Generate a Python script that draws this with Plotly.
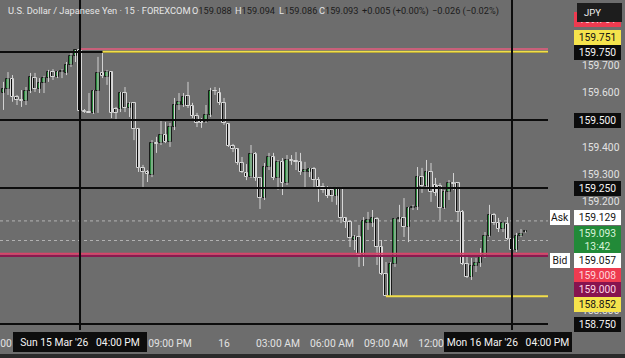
import plotly.graph_objects as go
import pandas as pd

# ---------------- data (15-minute USD/JPY candles) ----------------
start_time = "2026-03-15 11:45"
opens = [159.599, 159.614, 159.651, 159.585, 159.574, 159.570, 159.607, 159.654, 159.614, 159.636,
         159.654, 159.676, 159.658, 159.676, 159.673, 159.702, 159.735,
         159.757, 159.533, 159.529, 159.526, 159.607, 159.673, 159.658, 159.676, 159.540, 159.540,
         159.599, 159.544, 159.563, 159.467, 159.324, 159.309, 159.298, 159.415, 159.415, 159.445,
         159.419, 159.474, 159.555, 159.555, 159.588, 159.551, 159.515, 159.500, 159.493, 159.518,
         159.607, 159.599, 159.563, 159.485, 159.404, 159.393, 159.342, 159.305, 159.290, 159.375,
         159.287, 159.213, 159.327, 159.364, 159.287, 159.346, 159.268, 159.353, 159.349, 159.346,
         159.309, 159.309, 159.320, 159.279, 159.254, 159.250, 159.243, 159.221, 159.246, 159.140,
         159.125, 159.059, 159.070, 159.004, 159.121, 159.121, 159.136, 159.033, 158.934, 158.852,
         158.971, 159.136, 159.140, 159.107, 159.177, 159.180, 159.290, 159.257, 159.309, 159.261,
         159.257, 159.177, 159.235, 159.268, 159.268, 159.162, 158.971, 158.923, 158.963, 158.974,
         158.996, 159.074, 159.151, 159.121, 159.099, 159.118, 159.063, 159.022, 159.074, 159.088]
highs = [159.640, 159.676, 159.665, 159.592, 159.610, 159.621, 159.673, 159.673, 159.654, 159.662,
         159.684, 159.687, 159.680, 159.687, 159.713, 159.746, 159.757,
         159.761, 159.540, 159.599, 159.610, 159.732, 159.751, 159.684, 159.680, 159.548, 159.603,
         159.621, 159.566, 159.566, 159.471, 159.335, 159.316, 159.426, 159.438, 159.500, 159.493,
         159.489, 159.581, 159.599, 159.599, 159.640, 159.563, 159.526, 159.507, 159.555, 159.618,
         159.621, 159.618, 159.581, 159.489, 159.412, 159.397, 159.364, 159.338, 159.408, 159.382,
         159.290, 159.342, 159.379, 159.379, 159.353, 159.360, 159.371, 159.371, 159.382, 159.379,
         159.346, 159.324, 159.327, 159.290, 159.268, 159.257, 159.254, 159.254, 159.254, 159.143,
         159.132, 159.077, 159.114, 159.143, 159.162, 159.169, 159.143, 159.059, 158.978, 158.978,
         159.140, 159.188, 159.213, 159.180, 159.188, 159.327, 159.324, 159.353, 159.342, 159.287,
         159.268, 159.243, 159.279, 159.305, 159.272, 159.169, 159.004, 158.993, 158.993, 159.029,
         159.088, 159.188, 159.158, 159.140, 159.125, 159.143, 159.151, 159.085, 159.099, 159.094]
lows = [159.537, 159.592, 159.567, 159.555, 159.548, 159.555, 159.599, 159.603, 159.599, 159.599,
        159.640, 159.647, 159.654, 159.654, 159.665, 159.695, 159.713,
        159.529, 159.526, 159.526, 159.522, 159.526, 159.654, 159.629, 159.507, 159.500, 159.529,
        159.529, 159.511, 159.426, 159.309, 159.254, 159.272, 159.290, 159.379, 159.408, 159.415,
        159.401, 159.463, 159.537, 159.548, 159.544, 159.507, 159.474, 159.471, 159.489, 159.511,
        159.592, 159.555, 159.482, 159.401, 159.382, 159.335, 159.305, 159.279, 159.287, 159.276,
        159.173, 159.206, 159.316, 159.279, 159.243, 159.224, 159.261, 159.335, 159.316, 159.298,
        159.250, 159.290, 159.250, 159.199, 159.232, 159.213, 159.199, 159.188, 159.121, 159.103,
        159.033, 159.022, 158.960, 158.963, 159.096, 159.107, 158.967, 158.930, 158.852, 158.852,
        158.960, 159.125, 159.070, 159.051, 159.169, 159.169, 159.232, 159.250, 159.199, 159.221,
        159.132, 159.173, 159.206, 159.243, 159.125, 158.967, 158.919, 158.912, 158.941, 158.960,
        158.993, 159.070, 159.114, 159.088, 159.088, 159.059, 159.015, 159.015, 159.070, 159.086]
closes = [159.614, 159.651, 159.585, 159.574, 159.570, 159.607, 159.658, 159.614, 159.636, 159.654,
          159.676, 159.658, 159.676, 159.680, 159.702, 159.735, 159.757,
          159.533, 159.529, 159.526, 159.607, 159.673, 159.662, 159.676, 159.526, 159.526, 159.599,
          159.544, 159.559, 159.467, 159.324, 159.309, 159.302, 159.415, 159.413, 159.445, 159.419,
          159.474, 159.555, 159.566, 159.585, 159.551, 159.515, 159.489, 159.489, 159.518, 159.607,
          159.605, 159.563, 159.489, 159.404, 159.393, 159.342, 159.309, 159.290, 159.375, 159.287,
          159.213, 159.327, 159.364, 159.287, 159.346, 159.268, 159.353, 159.349, 159.346, 159.309,
          159.316, 159.320, 159.279, 159.254, 159.243, 159.221, 159.221, 159.246, 159.140, 159.125,
          159.066, 159.070, 159.004, 159.129, 159.132, 159.140, 159.033, 158.934, 158.852, 158.971,
          159.136, 159.138, 159.107, 159.177, 159.180, 159.290, 159.257, 159.309, 159.235, 159.232,
          159.177, 159.235, 159.268, 159.265, 159.162, 158.971, 158.923, 158.963, 158.974, 158.996,
          159.074, 159.151, 159.121, 159.099, 159.121, 159.063, 159.022, 159.074, 159.081, 159.093]

# horizontal levels
black_levels = [159.75, 159.50, 159.25, 158.75]
red_high = 159.761
yellow_high = 159.751
red_level = 159.008
maroon_level = 159.000
yellow_low = 158.852
ask_price = 159.129
bid_price = 159.057
last_price = 159.093
countdown = "13:42"
bar_change = "+0.005 (+0.00%)"
day_change = "\u22120.026 (\u22120.02%)"

# axis ticks (only the ones not hidden behind labels)
price_ticks = [158.8, 159.2, 159.3, 159.4, 159.6, 159.7]
tick_times = ["2026-03-15 12:00", "2026-03-15 21:00", "2026-03-16 00:00", "2026-03-16 03:00",
              "2026-03-16 06:00", "2026-03-16 09:00", "2026-03-16 12:00"]
tick_text = ["12:00 PM", "09:00 PM", "16", "03:00 AM", "06:00 AM", "09:00 AM", "12:00 PM"]
cross_times = ["2026-03-15 16:00", "2026-03-16 16:00"]
cross_labels = ["Sun 15 Mar '26\u00a0\u00a0\u00a004:00 PM", "Mon 16 Mar '26\u00a0\u00a0\u00a004:00 PM"]
x_range = ["2026-03-15 11:33:18", "2026-03-16 18:00"]
y_range = [158.728, 159.941]

# ---------------- styling ----------------
BG = "#6d6d6d"
UP_FILL, UP_EDGE = "#27883a", "#1a1a1a"
DN_FILL, DN_EDGE = "#0e0e0e", "#d8d8d8"
WICK = "#d2d2d2"
FONT = "Roboto"
W, H = 625, 358
PL, PR, PT, PB = 0, 77, 0, 28
PW, PH = W - PL - PR, H - PT - PB

def px_x(px):
    return px / PW

def px_y(py):
    return 1 - py / PH

times = pd.date_range(start_time, periods=len(opens), freq="15min")
t_end = pd.Timestamp(x_range[1])

fig = go.Figure()

# wicks
wx, wy = [], []
for t, h, l in zip(times, highs, lows):
    wx += [t, t, None]
    wy += [l, h, None]
fig.add_trace(go.Scatter(x=wx, y=wy, mode="lines", line=dict(color=WICK, width=1),
                         hoverinfo="skip", showlegend=False))

# bodies
base = [min(o, c) for o, c in zip(opens, closes)]
height = [max(abs(c - o), 0.0004) for o, c in zip(opens, closes)]
fills = [UP_FILL if c >= o else DN_FILL for o, c in zip(opens, closes)]
edges = [UP_EDGE if c >= o else DN_EDGE for o, c in zip(opens, closes)]
fig.add_trace(go.Bar(x=times, y=height, base=base, width=15 * 60 * 1000 * 0.8,
                     marker=dict(color=fills, line=dict(color=edges, width=1)),
                     showlegend=False, hoverinfo="skip"))

shapes = []
for lv in [ask_price, bid_price]:
    shapes.append(dict(type="line", xref="paper", x0=0, x1=1, yref="y", y0=lv, y1=lv,
                       line=dict(color="#b4b4b4", width=1, dash="dot"), layer="below"))
for lv in black_levels:
    shapes.append(dict(type="line", xref="paper", x0=0, x1=1, yref="y", y0=lv, y1=lv,
                       line=dict(color="#0c0c0c", width=2), layer="above"))
shapes.append(dict(type="line", xref="paper", x0=0, x1=1, yref="y", y0=maroon_level, y1=maroon_level,
                   line=dict(color="#8a1a50", width=2), layer="above"))
shapes.append(dict(type="line", xref="paper", x0=0, x1=1, yref="y", y0=red_level, y1=red_level,
                   line=dict(color="#d9436a", width=2), layer="above"))
i_hi = highs.index(red_high)
shapes.append(dict(type="line", xref="x", x0=times[i_hi], x1=t_end, yref="y", y0=red_high, y1=red_high,
                   line=dict(color="#c8607a", width=2), layer="above"))
i_yh = highs.index(yellow_high)
shapes.append(dict(type="line", xref="x", x0=times[i_yh], x1=t_end, yref="y", y0=yellow_high, y1=yellow_high,
                   line=dict(color="#f2de4a", width=2), layer="above"))
i_yl = lows.index(yellow_low)
shapes.append(dict(type="line", xref="x", x0=times[i_yl], x1=t_end, yref="y", y0=yellow_low, y1=yellow_low,
                   line=dict(color="#f2de4a", width=2), layer="above"))
for ct in cross_times:
    shapes.append(dict(type="line", xref="x", x0=ct, x1=ct, yref="paper", y0=0, y1=1,
                       line=dict(color="#0c0c0c", width=2), layer="above"))
shapes.append(dict(type="rect", xref="paper", x0=0, x1=W / PW, yref="paper", y0=-(H - 4 - PH) / PH,
                   y1=-PB / PH, fillcolor="#2a2a2a", line=dict(width=0), layer="above"))

ann = []
hdr_y = px_y(11)
def hdr(px, text, size=9.2):
    ann.append(dict(xref="paper", yref="paper", x=px_x(px), y=hdr_y, xanchor="left", yanchor="middle",
                    text=text, showarrow=False, font=dict(family=FONT, size=size, color="#e6e6e6")))

DV = "#1c1c1c"
hdr(6, "U.S. Dollar / Japanese Yen · 15 · FOREXCOM", size=9.3)
hdr(190, f"O<span style='color:{DV}'>{opens[-1]:.3f}</span>")
hdr(233, f"H<span style='color:{DV}'>{highs[-1]:.3f}</span>")
hdr(277, f"L<span style='color:{DV}'>{lows[-1]:.3f}</span>")
hdr(317, f"C<span style='color:{DV}'>{closes[-1]:.3f}</span>")
hdr(360, f"<span style='color:{DV}'>{bar_change}</span>")
hdr(430, f"<span style='color:{DV}'>{day_change}</span>")

def plabel(price, text, bg, fg, center_px, w=45, h=13, cx=597):
    shift = (52 + (159.75 - price) * 272) - center_px
    ann.append(dict(xref="paper", yref="y", x=px_x(cx), y=price, yshift=shift, xanchor="center",
                    yanchor="middle", text=text, showarrow=False, bgcolor=bg, borderwidth=0,
                    borderpad=1, width=w, height=h, align="center",
                    font=dict(family=FONT, size=10.3, color=fg)))

plabel(red_high, f"{red_high:.3f}", "#ee3b50", "#ffd6dc", 20)
ann.append(dict(xref="paper", yref="paper", x=px_x(599.5), y=px_y(12.5), xanchor="center", yanchor="middle",
                text="JPY\u00a0\u00a0\u00a0\u00a0\u00a0\u00a0", showarrow=False, bgcolor="#1d1d1d", borderwidth=0,
                borderpad=1, width=43, height=17, font=dict(family=FONT, size=9.5, color="#f0f0f0")))
plabel(yellow_high, f"{yellow_high:.3f}", "#f5e34c", "#151515", 37.5)
plabel(black_levels[0], f"{black_levels[0]:.3f}", "#0c0c0c", "#f4f4f4", 53)
plabel(black_levels[1], f"{black_levels[1]:.3f}", "#0c0c0c", "#f4f4f4", 121)
plabel(black_levels[2], f"{black_levels[2]:.3f}", "#0c0c0c", "#f4f4f4", 189)
plabel(ask_price, f"{ask_price:.3f}", "#ffffff", "#151515", 217.5)
plabel(ask_price, "Ask", "#ffffff", "#151515", 217.5, w=18, cx=560)
plabel(last_price, f"{last_price:.3f}<br>{countdown}", "#228a38", "#d8f2d8", 240.5, h=26)
plabel(bid_price, f"{bid_price:.3f}", "#ffffff", "#151515", 261)
plabel(bid_price, "Bid", "#ffffff", "#151515", 261, w=18, cx=560)
plabel(red_level, f"{red_level:.3f}", "#ee3b50", "#ffd6dc", 275)
plabel(maroon_level, f"{maroon_level:.3f}", "#86134f", "#ffd6e6", 289.5)
plabel(yellow_low, f"{yellow_low:.3f}", "#f5e34c", "#151515", 304)
plabel(black_levels[3], f"{black_levels[3]:.3f}", "#0c0c0c", "#f4f4f4", 324)

for ct, lab, xs, bw in zip(cross_times, cross_labels, [0, -4], [132, 126]):
    ann.append(dict(xref="x", yref="paper", x=ct, y=px_y(342), xshift=xs, xanchor="center", yanchor="middle",
                    text=lab, showarrow=False, bgcolor="#0d0d0d", borderwidth=0, borderpad=1,
                    width=bw, height=18, font=dict(family=FONT, size=10.3, color="#f4f4f4")))

fig.update_layout(
    width=W, height=H, margin=dict(l=PL, r=PR, t=PT, b=PB, pad=0),
    paper_bgcolor=BG, plot_bgcolor=BG, showlegend=False, bargap=0,
    shapes=shapes, annotations=ann,
    font=dict(family=FONT, size=10.3, color="#e2e2e2"),
    xaxis=dict(type="date", range=x_range, tickvals=tick_times, ticktext=tick_text,
               showgrid=False, zeroline=False, showline=False, ticks="", automargin=False,
               ticklabelstandoff=6, ticklabeloverflow="allow",
               tickfont=dict(family=FONT, size=10.3, color="#e2e2e2"), fixedrange=True),
    yaxis=dict(side="right", range=y_range, tickvals=price_ticks,
               ticktext=[f"{v:.3f}" for v in price_ticks],
               showgrid=False, zeroline=False, showline=False, ticks="", automargin=False,
               ticklabelstandoff=33, ticklabeloverflow="allow",
               tickfont=dict(family=FONT, size=10.3, color="#e2e2e2"), fixedrange=True),
)

fig.write_html("out.html")
